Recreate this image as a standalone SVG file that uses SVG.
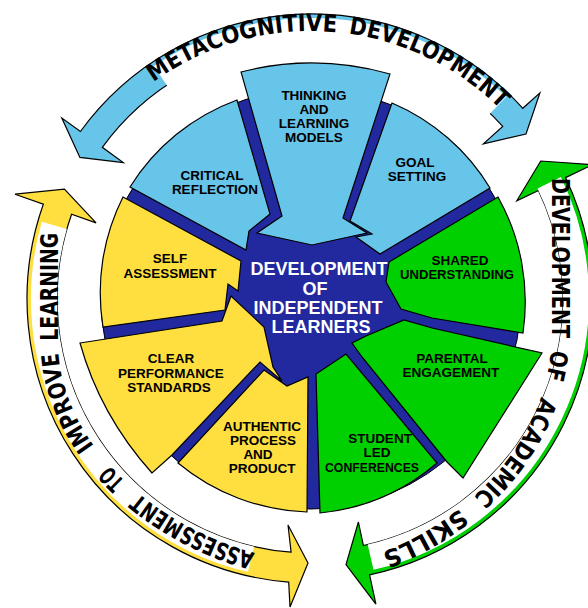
<svg xmlns="http://www.w3.org/2000/svg" width="588" height="608" viewBox="0 0 588 608">
<defs>
<style>
.seg{stroke:#000;stroke-width:1.2;stroke-linejoin:miter}
.band{stroke:#000;stroke-width:1.2;stroke-linejoin:miter}
.lb{fill:#68C5EA}
.yl{fill:#FFDF3F}
.gr{fill:#00D000}
.navy{fill:#22289E;stroke:#000;stroke-width:1}
.lbl{font-family:"Liberation Sans",Arial,sans-serif;font-weight:bold;font-size:13.5px;fill:#000;text-anchor:middle}
.ctr{font-family:"Liberation Sans",Arial,sans-serif;font-weight:bold;font-size:18px;fill:#fff;text-anchor:middle}
.arc{font-family:"Liberation Sans Narrow","DejaVu Sans Condensed","Liberation Sans",sans-serif;font-weight:bold;font-size:24px;fill:#000}
.cover{fill:none;stroke:#fff;stroke-width:26}
</style>
<path id="tpBlue" d="M 153.5,82.2 A 268 268 0 0 1 502.2,111.2"/>
<path id="tpGreen" d="M 552,176 L 552,338 C 548,440 470,520 380,553"/>
<path id="tpYellow" d="M 255,553 C 150,525 60,440 58,345 L 58,226"/>
</defs>
<rect width="588" height="608" fill="#fff"/>

<g id="cycle-arrows">
<path class="band lb" d="M 80.4,131.5 A 285 285 0 0 1 522.8,108.3 L 539.9,92.9 L 526,134 L 483.4,143.8 L 502.7,126.4 A 258 258 0 0 0 102.3,147.3 L 123.3,162.6 L 79.9,157.4 L 61.8,118 Z"/>
<path class="band gr" d="M 565.5,177.6 A 282 282 0 0 1 369.6,574.8 L 375.9,604.2 L 346,564.7 L 358.4,522 L 363.4,545.5 A 252 252 0 0 0 538.5,190.5 L 516.8,200.8 L 540.7,161 L 592.6,164.7 Z"/>
<path class="band yl" d="M 288.7,582.1 A 284 284 0 0 1 43.3,204.2 L 15,194.2 L 64.4,189.2 L 96.1,222.9 L 71.6,214.2 A 254 254 0 0 0 291.1,552.2 L 288,525 L 308,563 L 290,607 Z"/>
<path class="cover" d="M 161.1,76.8 A 268 268 0 0 1 497.2,106.2"/>
<path class="cover" d="M 549.2,182.8 A 265 265 0 0 1 370.6,557.2"/>
<path class="cover" d="M 250.9,559.2 A 267 267 0 0 1 54.3,225.4"/>
</g>

<g id="arc-labels">
<text class="arc"><textPath href="#tpBlue" startOffset="0" textLength="194" lengthAdjust="spacingAndGlyphs">METACOGNITIVE</textPath></text>
<text class="arc"><textPath href="#tpBlue" startOffset="206" textLength="172" lengthAdjust="spacingAndGlyphs">DEVELOPMENT</textPath></text>
<text class="arc"><textPath href="#tpGreen" startOffset="2" textLength="160" lengthAdjust="spacingAndGlyphs">DEVELOPMENT</textPath></text>
<text class="arc"><textPath href="#tpGreen" startOffset="174" textLength="30" lengthAdjust="spacingAndGlyphs">OF</textPath></text>
<text class="arc"><textPath href="#tpGreen" startOffset="222" textLength="122" lengthAdjust="spacingAndGlyphs">ACADEMIC</textPath></text>
<text class="arc"><textPath href="#tpGreen" startOffset="362" textLength="90" lengthAdjust="spacingAndGlyphs">SKILLS</textPath></text>
<text class="arc"><textPath href="#tpYellow" startOffset="0" textLength="132" lengthAdjust="spacingAndGlyphs">ASSESSMENT</textPath></text>
<text class="arc"><textPath href="#tpYellow" startOffset="150" textLength="22" lengthAdjust="spacingAndGlyphs">TO</textPath></text>
<text class="arc"><textPath href="#tpYellow" startOffset="197" textLength="101" lengthAdjust="spacingAndGlyphs">IMPROVE</textPath></text>
<text class="arc"><textPath href="#tpYellow" startOffset="310" textLength="108" lengthAdjust="spacingAndGlyphs">LEARNING</textPath></text>
</g>

<g id="hub">
<circle class="navy" cx="311" cy="299" r="210"/>
</g>

<g id="goal-setting">
<path class="seg lb" d="M 392,103 A 212 212 0 0 1 490,188 L 380,254 L 356,237 L 372,234 L 350,221 Z"/>
<text class="lbl" x="415" y="167">GOAL</text>
<text class="lbl" x="417" y="181">SETTING</text>
</g>

<g id="critical-reflection">
<path class="seg lb" d="M 130,187 A 212 212 0 0 1 237,100 L 270,214 L 249,231 L 246,250 Z"/>
<text class="lbl" x="212" y="180">CRITICAL</text>
<text class="lbl" x="215" y="194">REFLECTION</text>
</g>

<g id="thinking-models">
<path class="seg lb" d="M 241,72 Q 315,53 390,74 L 343,218 L 367,233 L 312,245 L 257,233 L 282,216 Z"/>
<text class="lbl" x="314" y="100">THINKING</text>
<text class="lbl" x="314" y="114">AND</text>
<text class="lbl" x="314" y="128">LEARNING</text>
<text class="lbl" x="314" y="142">MODELS</text>
</g>

<g id="self-assessment">
<path class="seg yl" d="M 123,197 A 213 213 0 0 0 103,327 L 225,310 L 228,284 L 238,291 L 241,261 Z"/>
<text class="lbl" x="170" y="263">SELF</text>
<text class="lbl" x="170" y="278">ASSESSMENT</text>
</g>

<g id="clear-standards">
<path class="seg yl" d="M 80,343 L 222,321 L 231,296 L 264,327 L 273,367 L 282,381 L 260,362 L 172,455 L 152,473 Q 100,415 80,343 Z"/>
<text class="lbl" x="171" y="363">CLEAR</text>
<text class="lbl" x="171" y="378">PERFORMANCE</text>
<text class="lbl" x="169" y="392">STANDARDS</text>
</g>

<g id="authentic-process">
<path class="seg yl" d="M 178,463 L 264,370 L 287,386 L 308,377 L 307,512 A 213 213 0 0 1 178,463 Z"/>
<text class="lbl" x="262" y="431">AUTHENTIC</text>
<text class="lbl" x="263" y="445">PROCESS</text>
<text class="lbl" x="258" y="459">AND</text>
<text class="lbl" x="262" y="473">PRODUCT</text>
</g>

<g id="student-conferences">
<path class="seg gr" d="M 320,513 L 316,374 L 346,354 L 437,463 A 212 212 0 0 1 320,513 Z"/>
<text class="lbl" x="380" y="443">STUDENT</text>
<text class="lbl" x="377" y="457">LED</text>
<text class="lbl" x="372" y="472" textLength="94" lengthAdjust="spacingAndGlyphs">CONFERENCES</text>
</g>

<g id="parental-engagement">
<path class="seg gr" d="M 542,353 L 463,478 L 447,462 L 362,357 L 352,343 L 366,336 L 404,320 L 432,328 Z"/>
<text class="lbl" x="452" y="363">PARENTAL</text>
<text class="lbl" x="451" y="377">ENGAGEMENT</text>
</g>

<g id="shared-understanding">
<path class="seg gr" d="M 498,197 A 215 215 0 0 1 523,333 L 432,318 L 401,309 L 386,282 L 389,262 Z"/>
<text class="lbl" x="460" y="265">SHARED</text>
<text class="lbl" x="457" y="279" textLength="114" lengthAdjust="spacingAndGlyphs">UNDERSTANDING</text>
</g>

<g id="center-label">
<text class="ctr" x="319" y="275">DEVELOPMENT</text>
<text class="ctr" x="315" y="295">OF</text>
<text class="ctr" x="318" y="314">INDEPENDENT</text>
<text class="ctr" x="321" y="333">LEARNERS</text>
</g>
</svg>
